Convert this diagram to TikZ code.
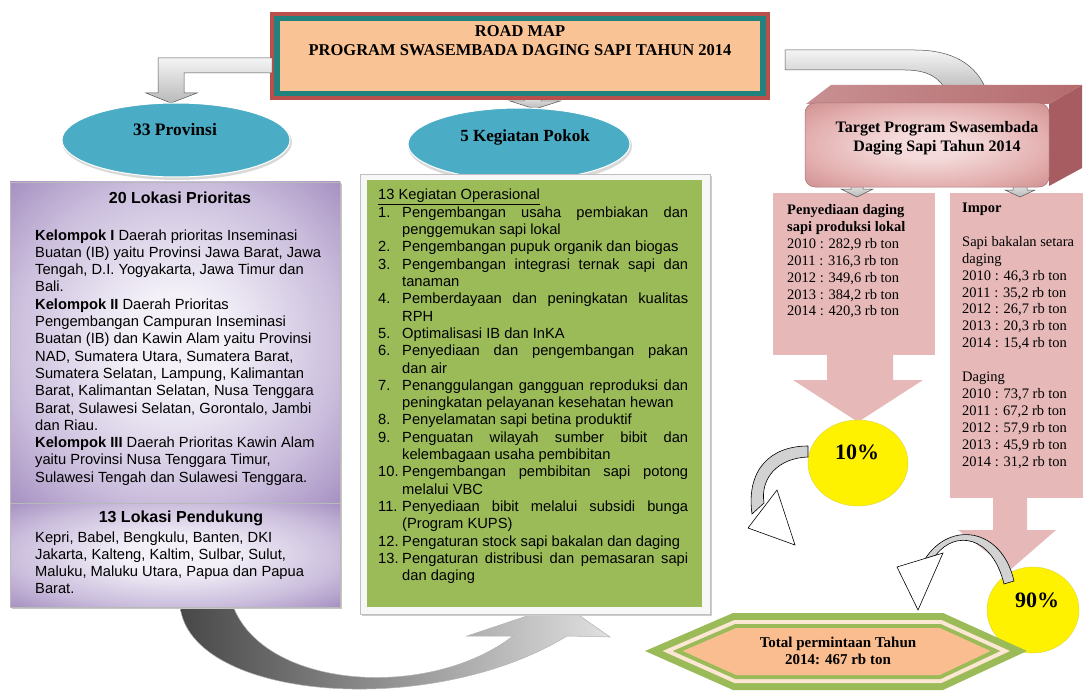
\documentclass[tikz,border=0pt]{standalone}
\usepackage{fontspec}
\setmainfont{Liberation Serif}
\newfontfamily\arial{Liberation Sans}
\usetikzlibrary{shapes.geometric,calc}
\definecolor{tred}{HTML}{B9504C}
\definecolor{tteal}{HTML}{23817E}
\definecolor{tpeach}{HTML}{F9C396}
\definecolor{eblue}{HTML}{4BACC6}
\definecolor{lav}{HTML}{A48EC0}
\definecolor{lavm}{HTML}{CABDDC}
\definecolor{lavl}{HTML}{F3F0F8}
\definecolor{ogreen}{HTML}{9BBB59}
\definecolor{pinkc}{HTML}{E6B9B8}
\definecolor{pinkl}{HTML}{F4DADA}
\definecolor{pinkm}{HTML}{E3AEAE}
\definecolor{pinkd}{HTML}{CF8F90}
\definecolor{rosetop}{HTML}{B56B6E}
\definecolor{roseside}{HTML}{A65C60}
\definecolor{hexpeach}{HTML}{F9BD8F}
\definecolor{hexlight}{HTML}{FCE6D4}
\pgfdeclareradialshading{lavsh}{\pgfpoint{0bp}{0bp}}{color(0bp)=(lavl); color(8bp)=(lavl); color(25bp)=(lavm); color(36bp)=(lav); color(50bp)=(lav)}
\pgfdeclareradialshading{tgsh}{\pgfpoint{0bp}{0bp}}{color(0bp)=(pinkl); color(8bp)=(pinkl); color(25bp)=(pinkm); color(36bp)=(pinkd); color(50bp)=(pinkd)}
\newcommand\jl[1]{\makebox[286pt][s]{#1}}
\begin{document}
\begin{tikzpicture}[x=1pt,y=-1pt,
  body/.style={font=\arial\fontsize{14.7}{17.3}\selectfont, inner sep=0pt, anchor=base west},
  ser/.style={font=\fontsize{14.5}{16.9}\selectfont, inner sep=0pt, anchor=base west},
  serb/.style={font=\bfseries\fontsize{16}{19}\selectfont, inner sep=0pt, align=center},
  garrow/.style={draw=gray!65!black, line width=0.5pt, top color=gray!8, bottom color=gray!55},
  cband/.style={draw=black, line width=0.6pt, fill=gray!35},
  chead/.style={draw=black, line width=0.6pt, fill=white},
  pct/.style={font=\bfseries\fontsize{22}{24}\selectfont, inner sep=0pt}]
\useasboundingbox (0,0) rectangle (1083,695);
\fill[white] (0,0) rectangle (1083,695);

% big bottom arrow (left box -> middle box)
\path[left color=black!72, right color=black!12, draw=gray!60, line width=0.5pt]
  (180,606) .. controls (190,700) and (430,720) .. (567,636) -- (610,637) -- (563,604)
  -- (467,636) -- (513,636) .. controls (430,700) and (265,690) .. (233,606) -- cycle;

% arrow title -> target
\path[garrow] (785,50) -- (915,50) .. controls (952,50) and (977,64) .. (987,92)
  -- (947,92) .. controls (940,78) and (928,70) .. (905,70) -- (785,70) -- cycle;

% arrow title -> 5 kegiatan
\path[garrow] (524,92) -- (524,101) -- (510,101) -- (535,109) -- (560,101) -- (541,101) -- (541,92) -- cycle;

% title box
\fill[tred] (270,12) rectangle (770,100);
\fill[tteal] (274,16) rectangle (766,96);
\fill[tpeach] (280,21) rectangle (760,91);
\node[font=\bfseries\fontsize{16.5}{19}\selectfont, align=center, inner sep=0pt] (title) at (520,41)
  {ROAD MAP\\PROGRAM SWASEMBADA DAGING SAPI TAHUN 2014};

% arrow title -> 33 provinsi
\path[garrow] (272,58) -- (158,58) -- (158,93) -- (146,93) -- (171,103) -- (197,93) -- (184,93) -- (184,73) -- (272,73) -- cycle;

% ellipses
\node[ellipse, fill=gray!30, minimum width=230pt, minimum height=76pt, inner sep=0pt] (provS) at (177,142) {};
\node[ellipse, fill=eblue, draw=white, line width=1pt, minimum width=228pt, minimum height=74pt, inner sep=0pt] (provE) at (176,140) {};
\node[font=\bfseries\fontsize{17.5}{20}\selectfont, inner sep=0pt] (provT) at (175,130) {33 Provinsi};

\node[ellipse, fill=gray!30, minimum width=224pt, minimum height=76pt, inner sep=0pt] (kegS) at (520,146) {};
\node[ellipse, fill=eblue, draw=white, line width=1pt, minimum width=222pt, minimum height=72pt, inner sep=0pt] (kegE) at (519,144) {};
\node[font=\bfseries\fontsize{17}{20}\selectfont, inner sep=0pt] (kegT) at (525,137) {5 Kegiatan Pokok};

% left box
\fill[gray!45] (12,184) rectangle (342,609);
\path[draw=gray!55, line width=0.5pt, shading=lavsh] (10,182) rectangle (340,503);
\path[draw=gray!55, line width=0.5pt, shading=lavsh] (10,503) rectangle (340,607);
\node[font=\arial\bfseries\fontsize{16}{19}\selectfont, inner sep=0pt] (h20) at (180,198) {20 Lokasi Prioritas};
\foreach \ltx [count=\i from 0] in {
  {\textbf{Kelompok I} Daerah prioritas Inseminasi},
  {Buatan (IB) yaitu Provinsi Jawa Barat, Jawa},
  {Tengah, D.I. Yogyakarta, Jawa Timur dan},
  {Bali.},
  {\textbf{Kelompok II} Daerah Prioritas},
  {Pengembangan Campuran Inseminasi},
  {Buatan (IB) dan Kawin Alam yaitu Provinsi},
  {NAD, Sumatera Utara, Sumatera Barat,},
  {Sumatera Selatan, Lampung, Kalimantan},
  {Barat, Kalimantan Selatan, Nusa Tenggara},
  {Barat, Sulawesi Selatan, Gorontalo, Jambi},
  {dan Riau.},
  {\textbf{Kelompok III} Daerah Prioritas Kawin Alam},
  {yaitu Provinsi Nusa Tenggara Timur,},
  {Sulawesi Tengah dan Sulawesi Tenggara.}}
  \node[body] (lp\i) at (35,{240+\i*17.3}) {\ltx};
\node[font=\arial\bfseries\fontsize{16}{19}\selectfont, inner sep=0pt] (h13) at (181,518) {13 Lokasi Pendukung};
\foreach \ltx [count=\i from 0] in {
  {Kepri, Babel, Bengkulu, Banten, DKI},
  {Jakarta, Kalteng, Kaltim, Sulbar, Sulut,},
  {Maluku, Maluku Utara, Papua dan Papua},
  {Barat.}}
  \node[body] (ls\i) at (35,{542+\i*17.3}) {\ltx};

% middle box
\fill[gray!40] (362,176) rectangle (712,616);
\path[fill=gray!6, draw=gray!50, line width=0.5pt] (360,174) rectangle (710,614);
\fill[ogreen] (367,180) rectangle (702,607);
\node[body] (mh) at (378,200) {\underline{13 Kegiatan Operasional}};
\foreach \mnum/\mtxt [count=\k] in {
 1./{\jl{Pengembangan usaha pembiakan dan}},
 /{penggemukan sapi lokal},
 2./{Pengembangan pupuk organik dan biogas},
 3./{\jl{Pengembangan integrasi ternak sapi dan}},
 /{tanaman},
 4./{\jl{Pemberdayaan dan peningkatan kualitas}},
 /{RPH},
 5./{Optimalisasi IB dan InKA},
 6./{\jl{Penyediaan dan pengembangan pakan}},
 /{dan air},
 7./{\jl{Penanggulangan gangguan reproduksi dan}},
 /{peningkatan pelayanan kesehatan hewan},
 8./{Penyelamatan sapi betina produktif},
 9./{\jl{Penguatan wilayah sumber bibit dan}},
 /{kelembagaan usaha pembibitan},
 10./{\jl{Pengembangan pembibitan sapi potong}},
 /{melalui VBC},
 11./{\jl{Penyediaan bibit melalui subsidi bunga}},
 /{(Program KUPS)},
 12./{Pengaturan stock sapi bakalan dan daging},
 13./{\jl{Pengaturan distribusi dan pemasaran sapi}},
 /{dan daging}}
 \node[body] (m\k) at (378,{200+\k*17.3}) {\makebox[24pt][l]{\mnum}\mtxt};

% pink columns
\fill[pinkc] (773,193) rectangle (935,355);
\fill[pinkc] (950,193) rectangle (1083,498);
\fill[pinkc] (827,354) -- (893,354) -- (893,380) -- (923,380) -- (858,422) -- (793,380) -- (827,380) -- cycle;
\fill[pinkc] (993,497) -- (1027,497) -- (1027,530) -- (1056,530) -- (1010,570) -- (958,530) -- (993,530) -- cycle;
\foreach \i/\ltx in {0/{\textbf{Penyediaan daging}}, 1/{\textbf{sapi produksi lokal}},
  2/{2010 : 282,9 rb ton}, 3/{2011 : 316,3 rb ton}, 4/{2012 : 349,6 rb ton},
  5/{2013 : 384,2 rb ton}, 6/{2014 : 420,3 rb ton}}
  \node[ser] (pl\i) at (787,{214.5+\i*16.9}) {\ltx};
\foreach \i/\ltx in {0/{\textbf{Impor}}, 2/{Sapi bakalan setara}, 3/{daging},
  4/{2010 : 46,3 rb ton}, 5/{2011 : 35,2 rb ton}, 6/{2012 : 26,7 rb ton},
  7/{2013 : 20,3 rb ton}, 8/{2014 : 15,4 rb ton}, 10/{Daging},
  11/{2010 : 73,7 rb ton}, 12/{2011 : 67,2 rb ton}, 13/{2012 : 57,9 rb ton},
  14/{2013 : 45,9 rb ton}, 15/{2014 : 31,2 rb ton}}
  \node[ser] (pr\i) at (962,{212.5+\i*16.9}) {\ltx};

% small arrows under target
\path[garrow] (851,180) -- (863,180) -- (863,189) -- (873,189) -- (857,197) -- (841,189) -- (851,189) -- cycle;
\path[garrow] (1013,180) -- (1027,180) -- (1027,190) -- (1035,190) -- (1020,197) -- (1005,190) -- (1013,190) -- cycle;

% target 3D box
\fill[roseside] (1049,104) -- (1082,85) -- (1082,168) -- (1049,186) -- cycle;
\path[left color=rosetop!75!white, right color=rosetop] (806,104) -- (831,85) -- (1082,85) -- (1049,104) -- cycle;
\path[rounded corners=10pt, draw=pinkd!80!black, line width=0.5pt, shading=tgsh] (805,103) rectangle (1049,187);
\node[serb] (target) at (937,138) {Target Program Swasembada\\Daging Sapi Tahun 2014};

% yellow ellipses
\node[ellipse, fill=yellow, draw=yellow!70!gray, line width=0.4pt, minimum width=100pt, minimum height=86pt, inner sep=0pt] (p10) at (858,463) {};
\node[pct] (p10t) at (857,452) {10\%};
\node[ellipse, fill=yellow, draw=yellow!70!gray, line width=0.4pt, minimum width=92pt, minimum height=86pt, inner sep=0pt] (p90) at (1033,610) {};
\node[pct] (p90t) at (1037,600) {90\%};

% curved arrows
\path[cband] (808,446) .. controls (770,446) and (746,470) .. (752,514) -- (764,503) .. controls (760,478) and (778,458) .. (808,457) -- cycle;
\path[chead] (748,528) -- (777,490) -- (795,545) -- cycle;
\path[cband] (1014,581) .. controls (1002,528) and (950,520) .. (925,559) -- (936,555) .. controls (955,530) and (992,535) .. (1004,584) -- cycle;
\path[chead] (897,567) -- (943,553) -- (918,610) -- cycle;

% hexagon
\fill[ogreen] (645,651) -- (733,613) -- (943,613) -- (1027,651) -- (943,690) -- (733,690) -- cycle;
\fill[hexlight] (662.6,651) -- (734.4,620) -- (941.5,620) -- (1010,651) -- (941.5,683) -- (734.4,683) -- cycle;
\fill[ogreen] (672.7,651) -- (735.3,624) -- (940.6,624) -- (1000.3,651) -- (940.6,679) -- (735.3,679) -- cycle;
\fill[hexpeach] (682.8,651) -- (736.1,628) -- (939.8,628) -- (990.5,651) -- (939.8,675) -- (736.1,675) -- cycle;
\node[font=\bfseries\fontsize{15}{17}\selectfont, align=center, inner sep=0pt] (total) at (838,651)
  {Total permintaan Tahun\\2014: 467 rb ton};
\end{tikzpicture}
\end{document}
